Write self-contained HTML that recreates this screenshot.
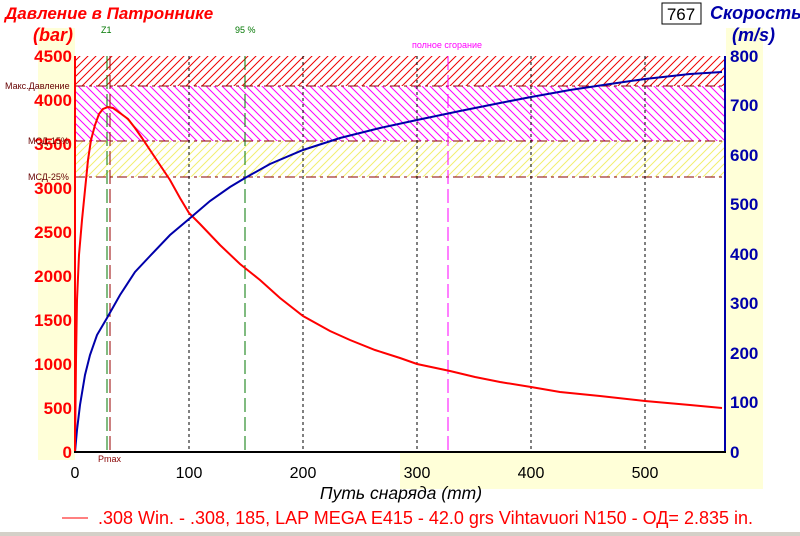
<!DOCTYPE html>
<html><head><meta charset="utf-8"><style>
body{margin:0;background:#fff}
svg{display:block;font-family:"Liberation Sans",sans-serif}
</style></head><body>
<svg width="800" height="536" viewBox="0 0 800 536">
<defs>
<pattern id="pr" width="8" height="8" patternUnits="userSpaceOnUse"><path d="M0 8L8 0M-2 2L2 -2M6 10L10 6" stroke="#e00" stroke-width="1"/></pattern>
<pattern id="pm" width="8" height="8" patternUnits="userSpaceOnUse"><path d="M0 0L8 8M-2 6L2 10M6 -2L10 2" stroke="#f0f" stroke-width="1"/></pattern>
<pattern id="py" width="8" height="8" patternUnits="userSpaceOnUse"><path d="M0 8L8 0M-2 2L2 -2M6 10L10 6" stroke="#f2ee70" stroke-width="1"/></pattern>
</defs>
<rect x="38" y="28" width="37" height="432" fill="#ffffd8"/>
<rect x="726" y="28" width="37" height="425" fill="#ffffd8"/>
<rect x="400" y="453" width="363" height="36" fill="#ffffd8"/>
<rect x="75" y="56" width="650" height="30" fill="url(#pr)"/>
<rect x="75" y="86" width="650" height="55" fill="url(#pm)"/>
<rect x="75" y="141" width="650" height="36" fill="url(#py)"/>
<g stroke="#800" stroke-dasharray="10,4,3,4" stroke-width="1">
<line x1="75" y1="86" x2="725" y2="86"/><line x1="75" y1="141" x2="725" y2="141"/><line x1="75" y1="177" x2="725" y2="177"/></g>
<g stroke="#000" stroke-dasharray="3,3" stroke-width="1">
<line x1="189" y1="56" x2="189" y2="452"/><line x1="303" y1="56" x2="303" y2="452"/><line x1="417" y1="56" x2="417" y2="452"/><line x1="531" y1="56" x2="531" y2="452"/><line x1="645" y1="56" x2="645" y2="452"/></g>
<g stroke-dasharray="14,5" stroke-width="1">
<line x1="107" y1="56" x2="107" y2="452" stroke="#070"/>
<line x1="110" y1="56" x2="110" y2="452" stroke="#900"/>
<line x1="245" y1="56" x2="245" y2="452" stroke="#070"/>
<line x1="448" y1="56" x2="448" y2="452" stroke="#f0f"/></g>
<polyline fill="none" stroke="#f00" stroke-width="2" points="75,452 76,360 77,300 79,255 82,220 85,190 88,160 91,140 95,125 99,114 103,109 108,107 113,108 120,113 128,119 135,128 142,138 150,150 160,165 170,180 180,198 189,213 200,224 220,245 240,264 260,280 280,298 303,316 330,331 350,340 375,350 400,358 417,364 450,371 475,377 500,382 531,387 560,392 600,396 645,401 690,405 722,408"/>
<polyline fill="none" stroke="#00a" stroke-width="2" points="75,452 77,430 80,405 85,375 90,355 97,335 107,318 120,295 135,272 150,256 170,235 189,219 210,201 230,187 245,178 270,164 303,150 340,138 380,128 417,120 460,111 500,103 531,97 570,90 610,84 645,79 690,74 722,72"/>
<line x1="75" y1="56" x2="75" y2="452" stroke="#f00" stroke-width="2"/>
<line x1="725" y1="56" x2="725" y2="452" stroke="#00a" stroke-width="2"/>
<line x1="74" y1="452" x2="726" y2="452" stroke="#000" stroke-width="2"/>
<g font-size="17" font-weight="bold" fill="#f00" text-anchor="end">
<text x="72" y="62">4500</text><text x="72" y="106">4000</text><text x="72" y="150">3500</text><text x="72" y="194">3000</text><text x="72" y="238">2500</text><text x="72" y="282">2000</text><text x="72" y="326">1500</text><text x="72" y="370">1000</text><text x="72" y="414">500</text><text x="72" y="458">0</text></g>
<g font-size="17" font-weight="bold" fill="#00a">
<text x="730" y="62">800</text><text x="730" y="111">700</text><text x="730" y="161">600</text><text x="730" y="210">500</text><text x="730" y="260">400</text><text x="730" y="309">300</text><text x="730" y="359">200</text><text x="730" y="408">100</text><text x="730" y="458">0</text></g>
<g font-size="16" fill="#000" text-anchor="middle">
<text x="75" y="478">0</text><text x="189" y="478">100</text><text x="303" y="478">200</text><text x="417" y="478">300</text><text x="531" y="478">400</text><text x="645" y="478">500</text></g>
<text x="401" y="499" font-size="17.5" font-style="italic" text-anchor="middle">Путь снаряда (mm)</text>
<text x="5" y="19" font-size="17" font-weight="bold" font-style="italic" fill="#f00">Давление в Патроннике</text>
<text x="33" y="41" font-size="18" font-weight="bold" font-style="italic" fill="#f00">(bar)</text>
<rect x="662" y="3" width="39" height="21" fill="#fff" stroke="#000"/>
<text x="681" y="20" font-size="17" text-anchor="middle">767</text>
<text x="710" y="19" font-size="18" font-weight="bold" font-style="italic" fill="#00a">Скорость</text>
<text x="732" y="41" font-size="18" font-weight="bold" font-style="italic" fill="#00a">(m/s)</text>
<g font-size="9"><text x="101" y="33" fill="#070">Z1</text><text x="235" y="33" fill="#070">95 %</text><text x="412" y="48" fill="#f0f">полное сгорание</text>
<text x="5" y="89" fill="#600">Макс.Давление</text><text x="28" y="144" fill="#600">МСД-15%</text><text x="28" y="180" fill="#600">МСД-25%</text><text x="98" y="462" fill="#800">Pmax</text></g>
<line x1="62" y1="518" x2="88" y2="518" stroke="#f00"/>
<text x="98" y="524" font-size="18" fill="#f00">.308 Win. - .308, 185, LAP MEGA E415 - 42.0 grs Vihtavuori N150 - ОД= 2.835 in.</text>
<rect x="0" y="532" width="800" height="4" fill="#d4d0c8"/>
</svg></body></html>
